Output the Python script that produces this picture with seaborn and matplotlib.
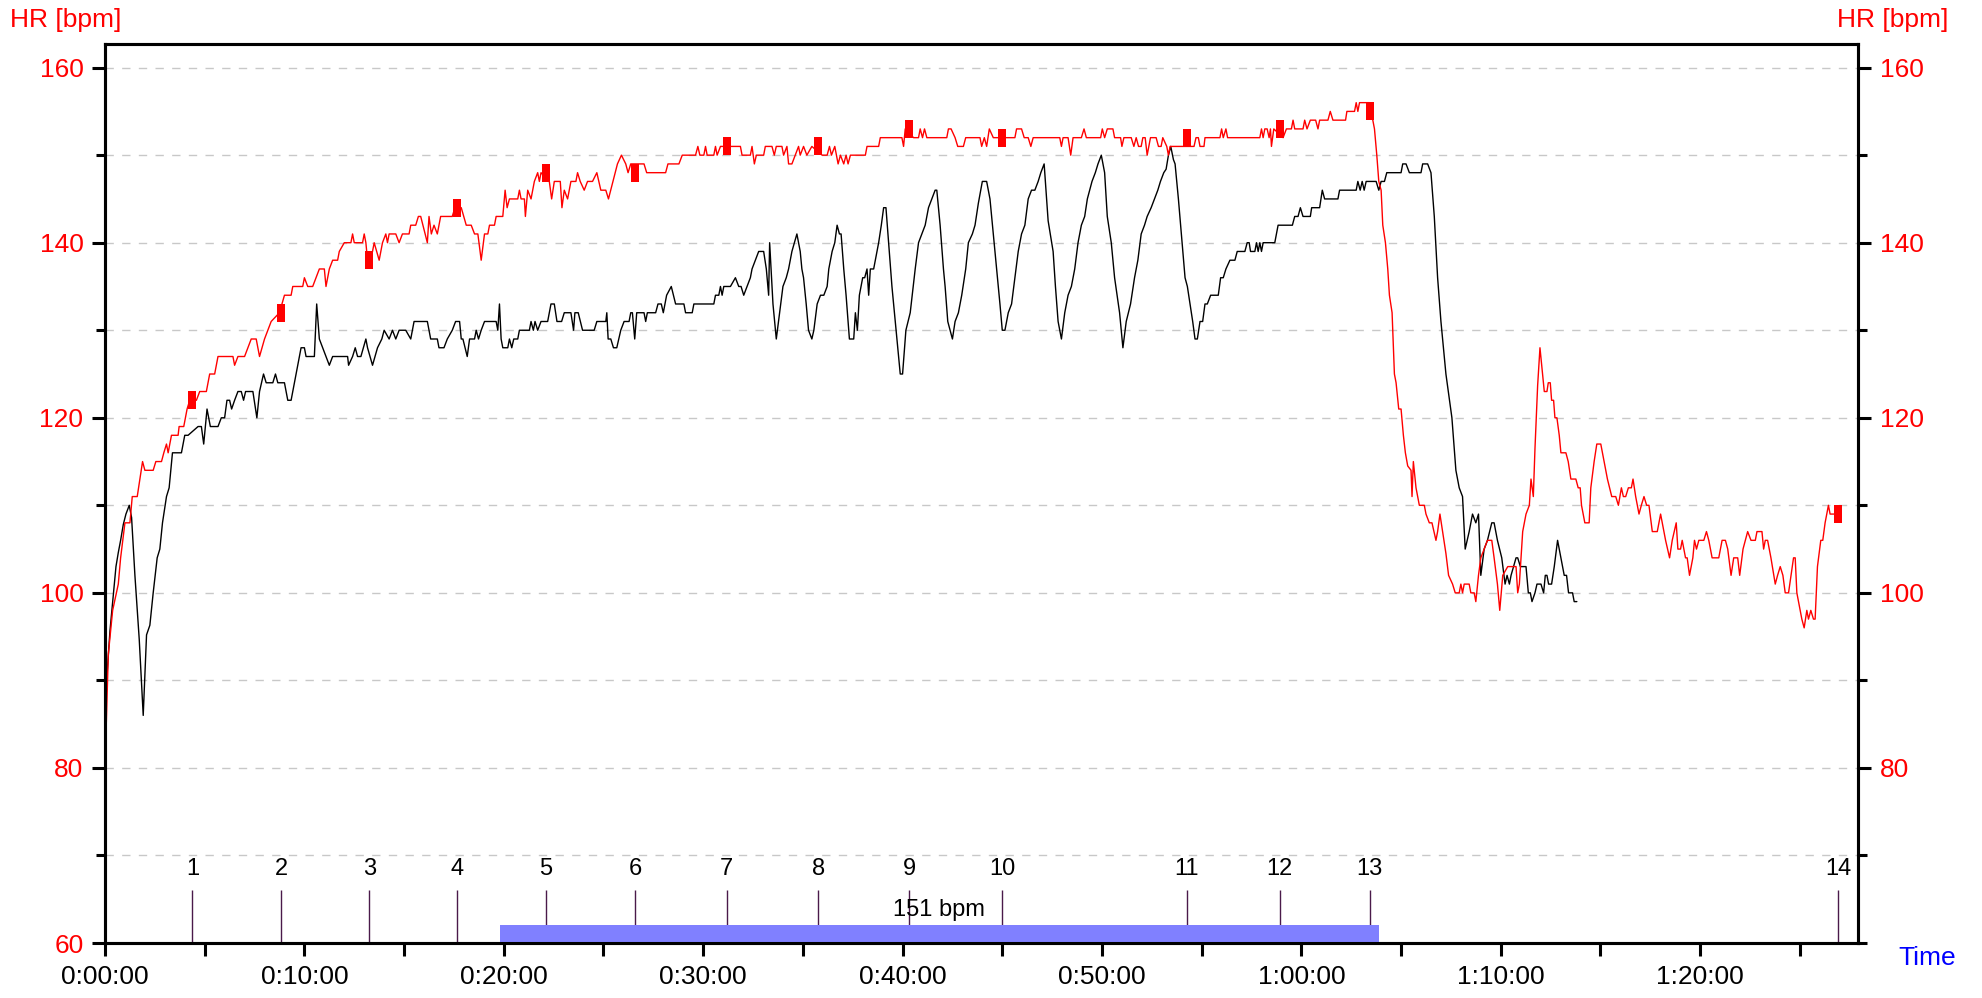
import matplotlib
matplotlib.use("Agg")
import matplotlib.pyplot as plt
import seaborn as sns
import pandas as pd
from matplotlib.path import Path
from matplotlib.ticker import MultipleLocator, FuncFormatter, FixedLocator

# ---------------- data (time in seconds, heart rate in bpm) ----------------
red_trace = [(0,80),(10,93),(23,98),(40,101),(47,104),(60,108),(75,108),(82,111),(97,111),(113,115),(120,114),(145,114),(153,115),(170,115),(177,116),(185,117),(190,116),(200,118),(220,118),(223,119),(237,119),(247,121),(255,122),(275,122),(285,123),(305,123),(315,125),(330,125),(340,127),(385,127),(390,126),(400,127),(420,127),(430,128),(440,129),(455,129),(465,127),(480,129),(500,131),(525,132),(540,134),(560,134),(565,135),(595,135),(600,136),(610,135),(625,135),(635,136),(645,137),(660,137),(665,135),(675,137),(685,138),(700,138),(705,139),(720,140),(740,140),(745,141),(750,140),(775,140),(780,141),(785,140),(790,138),(805,139),(810,140),(825,138),(835,140),(845,141),(850,140),(855,141),(875,141),(885,140),(895,141),(915,141),(920,142),(935,142),(943,143),(950,143),(970,140),(975,143),(982,141),(990,142),(1000,141),(1010,143),(1045,143),(1053,144),
(1072,144),(1087,142),(1102,142),(1112,141),(1122,141),(1132,138),(1142,141),(1152,141),(1157,142),(1172,142),(1177,143),(1197,143),(1204,146),(1210,144),(1217,145),(1242,145),(1247,146),(1252,145),(1262,145),(1265,143),(1272,146),(1282,145),(1292,147),(1302,148),(1307,147),(1312,148),(1337,147),(1344,145),(1352,147),(1370,147),(1375,144),(1382,146),(1392,145),(1402,147),(1417,147),(1422,148),(1430,147),(1442,146),(1452,147),(1467,147),(1480,148),(1492,146),(1507,146),(1515,145),(1542,149),(1554,150),(1567,149),(1574,148),(1582,149),(1622,149),(1630,148),(1687,148),(1694,149),(1727,149),(1737,150),(1777,150),(1784,151),(1790,150),(1802,150),(1807,151),(1812,150),(1832,150),(1837,151),(1842,150),(1852,151),(1912,151),(1917,150),(1942,150),(1947,151),(1954,149),(1960,150),(1982,150),(1987,151),(2007,151),(2014,150),(2020,151),(2037,151),(2042,150),(2052,151),(2057,149),(2067,149),(2077,150),(2087,151),(2092,150),(2102,151),(2112,150),(2127,151),
(2158,150),(2173,150),(2180,151),(2186,150),(2196,151),(2206,149),(2213,150),(2223,149),(2230,150),(2236,149),(2243,150),(2288,150),(2293,151),(2328,151),(2333,152),(2398,152),(2403,151),(2408,153),(2433,152),(2448,152),(2453,153),(2460,152),(2466,153),(2473,152),(2533,152),(2538,153),(2546,153),(2558,152),(2566,151),(2583,151),(2590,152),(2633,152),(2638,151),(2646,152),(2653,151),(2661,153),(2673,152),(2738,152),(2743,153),(2758,153),(2766,152),(2778,152),(2786,151),(2793,152),(2873,152),(2878,151),(2883,152),(2898,152),(2906,150),(2913,152),(2938,152),(2946,153),(2953,152),(2996,152),(3001,153),(3008,152),(3016,153),(3033,153),(3038,152),(3056,152),(3060,151),(3066,152),(3088,152),(3096,151),(3103,152),(3110,151),(3118,151),(3123,152),(3130,152),(3136,150),(3146,152),(3163,152),(3170,151),(3178,151),(3183,152),
(3195,151),(3200,150),(3205,151),(3265,151),(3277,151),(3283,152),(3290,152),(3295,151),(3307,151),(3310,152),(3355,152),(3360,153),(3365,152),(3373,153),(3378,152),(3475,152),(3480,153),(3485,152),(3490,153),(3497,153),(3503,152),(3507,153),(3510,151),(3517,153),(3545,152),(3555,153),(3570,153),(3575,154),(3580,153),(3605,153),(3610,154),(3617,153),(3627,154),(3643,154),(3650,153),(3655,154),(3680,154),(3687,155),(3695,154),(3733,154),(3737,155),(3760,155),(3765,156),(3770,155),(3775,156),(3805,156),(3815,154),(3820,153),(3827,150),(3833,147),(3840,146),(3845,142),(3853,140),(3860,137),(3865,134),(3873,132),(3880,125),(3885,124),(3893,121),(3900,121),(3907,118),(3913,116),(3920,114.5),(3930,114),(3933,111),(3937,115),(3945,112),(3955,110),(3970,110),(3975,109),(3985,108),(3993,108),(4005,106),(4010,107),(4017,109),(4025,107),(4035,104.5),(4043,102),(4055,101),(4063,100),(4075,100),(4080,101),(4085,100),(4090,101),(4105,101),(4110,100),(4120,100),(4125,99),(4133,102),(4140,104),(4150,105),(4160,106),(4173,106),(4180,104),(4190,101),(4197,98),
(4206,102),(4221,103),(4246,103),(4251,100),(4256,101),(4266,107),(4276,109),(4286,110),(4291,113),(4298,111),(4303,116.5),(4311,123.7),(4318,128),(4326,125),(4331,123),(4339,123),(4343,124),(4349,124),(4353,122),(4359,122),(4363,120),(4369,120),(4376,118),(4381,116),(4396,116),(4403,115),(4411,113),(4426,113),(4433,112),(4439,112),(4443,110),(4453,108),(4466,108),(4471,112),(4481,115),(4489,117),(4501,117),(4511,115),(4521,113),(4534,111),(4546,111),(4554,110),(4563,112),(4569,111),(4576,111),(4584,112),(4593,112),(4598,113),(4606,111),(4616,109),(4623,110),(4631,111),(4639,110),(4646,110),(4656,107),(4671,107),(4681,109),(4696,106),(4708,104),(4716,106),(4728,108),(4733,105),(4741,105),(4746,106),(4756,104),(4761,104),(4768,102),(4778,104),(4783,106),(4789,105),(4796,106),(4811,106),(4819,107),(4826,106),(4836,104),(4856,104),(4866,106),(4876,106),(4883,105),(4893,102),(4901,104),(4913,104),(4919,102),(4929,105),(4943,107),(4953,106),(4966,106),(4971,107),(4986,107),(4991,105),(4996,106),(5003,106),(5013,104),(5026,101),(5033,102),(5041,103),(5049,102),(5056,100),(5066,100),(5081,104),(5086,104),(5091,100),(5096,99),(5106,97),(5113,96),(5121,98),(5126,97),(5133,98),(5141,97),(5146,97),(5153,103),(5163,106),(5169,106),(5176,108),(5186,110),(5191,109),(5215,109)]

black_trace = [(5,90),(15,95.7),(23,99),(33,103),(40,104.6),(47,106),(55,107.8),(63,109),(73,110),(80,108.6),(90,102),(103,94.7),(115,86),(125,95.2),(135,96.3),(145,100),(157,104),(165,105),(173,108),(185,111),(193,112),(203,116),(230,116),(240,118),(250,118),(280,119),(290,119),(297,117),(307,121),(317,119),(340,119),(350,120),(360,120),(367,122),(375,122),(381,121),(390,122),(400,123),(410,123),(417,122),(423,123),(445,123),(457,120),(465,123),(477,125),(485,124),(505,124),(513,125),(520,124),(540,124),(550,122),(560,122),(575,125),(590,128),(600,128),(605,127),(630,127),(637,133),(645,129),(655,128),(665,127),(675,126),(685,127),(730,127),(733,126),(745,127),(753,128),(760,127),(770,127),(785,129),(790,128),(805,126),(820,128),(833,129),(840,130),(855,129),(865,130),(875,129),(885,130),(905,130),(920,129),(930,131),(970,131),(980,129),(1000,129),(1005,128),(1020,128),(1030,129),(1045,130),(1055,131),
(1067,131),(1072,129),(1077,129),(1090,127),(1097,129),(1112,129),(1117,130),(1124,129),(1132,130),(1142,131),(1177,131),(1182,130),(1187,133),(1192,129),(1197,128),(1212,128),(1217,129),(1224,128),(1230,129),(1242,129),(1247,130),(1277,130),(1282,131),(1289,130),(1294,131),(1302,130),(1312,131),(1332,131),(1342,133),(1352,133),(1360,131),(1374,131),(1382,132),(1402,132),(1410,130),(1414,132),(1424,132),(1437,130),(1472,130),(1480,131),(1507,131),(1510,132),(1514,129),(1522,129),(1530,128),(1540,128),(1552,130),(1562,131),(1577,131),(1582,132),(1587,132),(1594,129),(1600,132),(1622,132),(1627,131),(1632,132),(1657,132),(1664,133),(1674,133),(1680,132),(1690,134),(1704,135),(1717,133),(1742,133),(1747,132),(1767,132),(1772,133),(1832,133),(1837,134),(1847,134),(1852,135),(1857,134),(1862,135),(1882,135),(1897,136),(1907,135),(1914,135),(1922,134),(1932,135),(1942,136),(1947,137),(1957,138),(1967,139),(1982,139),(1990,137),(1997,134),(2000,140),(2010,133),(2020,129),(2030,132),(2040,135),(2050,136),(2057,137),(2067,139),(2082,141),(2092,139),(2097,137),(2102,136),(2110,133),(2117,130),(2127,129),
(2133,130),(2143,133),(2153,134),(2163,134),(2173,135),(2178,137),(2188,139),(2196,140),(2203,142),(2210,141),(2215,141),(2223,137),(2230,134),(2240,129),(2253,129),(2258,132),(2264,130),(2270,134),(2280,136),(2286,136),(2293,137),(2298,134),(2303,137),(2313,137),(2328,140),(2336,142),(2343,144),(2350,144),(2358,140),(2368,135),(2378,131),(2393,125),(2400,125),(2410,130),(2423,132),(2438,137),(2448,140),(2458,141),(2468,142),(2478,144),(2488,145),(2498,146),(2503,146),(2513,142),(2523,137),(2528,135),(2536,131),(2550,129),(2558,131),(2568,132),(2578,134),(2590,137),(2598,140),(2610,141),(2618,142),(2628,144.5),(2640,147),(2653,147),(2663,145),(2673,141),(2683,137),(2693,133),(2700,130),(2708,130),(2718,132),(2728,133),(2738,136),(2748,139),(2758,141),(2768,142),(2778,145),(2788,146),(2798,146),(2808,147),(2816,148),(2826,149),(2838,142.5),(2853,139),(2860,135),(2868,131),(2878,129),(2888,132),(2898,134),(2908,135),(2918,137),(2928,140),(2938,142),(2948,143),(2956,145),(2970,147),(2980,148),(2988,149),(2998,150),(3008,148),(3016,143),(3028,140),(3038,136),(3053,132),(3063,128),(3073,131),(3086,133),(3098,136),(3108,138),(3118,141),(3128,142),(3136,143),(3148,144),(3158,145),(3168,146),(3176,147),(3186,148),(3193,148.4),
(3200,150),(3207,151),(3215,149.5),(3220,149),(3230,145),(3240,140.5),(3250,136),(3257,135),(3265,133),(3273,131),(3280,129),(3287,129),(3295,131),(3303,131),(3310,133),(3317,133),(3327,134),(3350,134),(3357,136),(3365,136),(3373,137),(3385,138),(3400,138),(3407,139),(3430,139),(3437,140),(3443,140),(3447,139),(3460,139),(3465,140),(3470,139),(3475,140),(3480,139),(3485,140),(3520,140),(3530,142),(3573,142),(3580,143),(3590,143),(3597,144),(3605,143),(3627,143),(3631,144),(3655,144),(3663,146),(3670,145),(3710,145),(3715,146),(3765,146),(3770,147),(3777,146),(3783,147),(3789,146),(3795,147),(3825,147),(3833,146),(3840,147),(3850,147),(3857,148),(3900,148),(3905,149),(3915,149),(3925,148),(3960,148),(3965,149),(3980,149),(3990,148),(4000,143),(4010,136),(4020,131),(4035,125),(4053,120),(4065,114),(4075,112),(4085,111),(4093,105),(4105,107),(4115,109),(4125,108),(4133,109),(4140,102),(4150,105),(4160,106),(4173,108),(4180,108),(4190,106),(4203,104),(4213,101),(4219,102),(4226,101),(4231,102),(4246,104),(4251,104),(4259,103),(4276,103),(4283,100),(4289,100),(4294,99),(4303,100),(4309,101),(4321,101),(4329,100),(4334,102),(4339,102),(4344,101),(4353,101),(4361,103),(4371,106),(4381,104),(4391,102),(4398,102),(4404,100),(4416,100),(4421,99),(4429,99)]

lap_t = [263, 530, 795, 1060, 1326, 1596, 1871, 2146, 2420, 2700, 3255, 3535, 3806, 5215]
lap_hr = [122, 132, 138, 144, 148, 148, 151, 151, 153, 152, 152, 153, 155, 109]
lap_labels = ["1", "2", "3", "4", "5", "6", "7", "8", "9", "10", "11", "12", "13", "14"]

zone_start, zone_end = 1188, 3833
zone_label = "151 bpm"

right_labels = [80, 100, 120, 140, 160]

x_max = 5275
y_min, y_max = 60, 162.7

# ---------------- styling ----------------
sns.set_style("white")
plt.rcParams['font.family'] = ['Liberation Sans', 'DejaVu Sans']

W, H = 1982, 998
fig = plt.figure(figsize=(W / 100, H / 100), dpi=100)
ax = fig.add_axes([105 / W, 55 / H, (1858 - 105) / W, (943 - 44) / H])

df_red = pd.DataFrame(red_trace, columns=["t", "hr"])
df_black = pd.DataFrame(black_trace, columns=["t", "hr"])

sns.lineplot(data=df_black, x="t", y="hr", color="black", linewidth=1.0,
             estimator=None, sort=False, ax=ax, zorder=4)
sns.lineplot(data=df_red, x="t", y="hr", color="#ff0000", linewidth=1.0,
             estimator=None, sort=False, ax=ax, zorder=5)

# lap markers on the red trace
rect = Path([(-0.215, -0.5), (0.215, -0.5), (0.215, 0.5), (-0.215, 0.5), (-0.215, -0.5)],
            [Path.MOVETO, Path.LINETO, Path.LINETO, Path.LINETO, Path.CLOSEPOLY])
ax.plot(lap_t, lap_hr, linestyle="none", marker=rect, markersize=12.5,
        color="#ff0000", markeredgewidth=0, zorder=6)

# lap lines and numbers
ax.vlines(lap_t, y_min, 66, colors="#4a1a4a", linewidth=1.0, zorder=2)
for t, lab in zip(lap_t, lap_labels):
    ax.text(t, 68.5, lab, ha="center", va="center", fontsize=17, color="black", zorder=6)

# zone bar
ax.broken_barh([(zone_start, zone_end - zone_start)], (y_min, 2.0),
               facecolors="#8080ff", edgecolor="none", zorder=3)
ax.text((zone_start + zone_end) / 2, 63.8, zone_label, ha="center", va="center",
        fontsize=17, color="black", zorder=6)

ax.set_xlim(0, x_max)
ax.set_ylim(y_min, y_max)
ax.set_xlabel("")
ax.set_ylabel("")


def fmt_time(v, pos):
    s = int(round(v))
    if s % 600 != 0:
        return ""
    return f"{s // 3600}:{(s % 3600) // 60:02d}:{s % 60:02d}"


ax.xaxis.set_major_locator(MultipleLocator(300))
ax.xaxis.set_major_formatter(FuncFormatter(fmt_time))
ax.xaxis.set_minor_locator(MultipleLocator(900))
ax.yaxis.set_major_locator(MultipleLocator(20))
ax.yaxis.set_minor_locator(MultipleLocator(10))

ax.tick_params(axis="x", which="major", direction="out", length=9, width=2.2,
               color="black", labelcolor="black", labelsize=19, pad=7, bottom=True)
ax.tick_params(axis="x", which="minor", length=0)
ax.tick_params(axis="y", which="both", direction="out", width=2.2, color="black",
               left=True, right=False, labelleft=True, labelright=False,
               labelcolor="#ff0000", labelsize=19, pad=6)
ax.tick_params(axis="y", which="major", length=9.5)
ax.tick_params(axis="y", which="minor", length=6.5)

grid_kw = dict(color="#c8c8c8", linestyle=(0, (6, 6)), linewidth=1.0)
ax.yaxis.grid(True, which="both", **grid_kw)
ax.xaxis.grid(False, which="major")
ax.xaxis.grid(True, which="minor", **grid_kw)
ax.set_axisbelow(True)

# right-hand axis (same scale, no label at 60)
ax2 = ax.twinx()
ax2.set_ylim(y_min, y_max)
ax2.yaxis.set_major_locator(FixedLocator(right_labels))
ax2.yaxis.set_minor_locator(MultipleLocator(10))
ax2.tick_params(axis="y", which="both", direction="out", width=2.2, color="black",
                labelcolor="#ff0000", labelsize=19, pad=6)
ax2.tick_params(axis="y", which="major", length=9.5)
ax2.tick_params(axis="y", which="minor", length=6.5)
ax2.grid(False)
ax2.set_ylabel("")

for a in (ax, ax2):
    for side in ["left", "right", "top", "bottom"]:
        a.spines[side].set_visible(True)
        a.spines[side].set_color("black")
        a.spines[side].set_linewidth(2.2)

fig.text(10 / W, 1 - 20 / H, "HR [bpm]", color="#ff0000", fontsize=19, ha="left", va="center")
fig.text(1837 / W, 1 - 20 / H, "HR [bpm]", color="#ff0000", fontsize=19, ha="left", va="center")
fig.text(1898 / W, 1 - 958 / H, "Time", color="#0000ff", fontsize=19, ha="left", va="center")

fig.savefig("out.png", dpi=100)
